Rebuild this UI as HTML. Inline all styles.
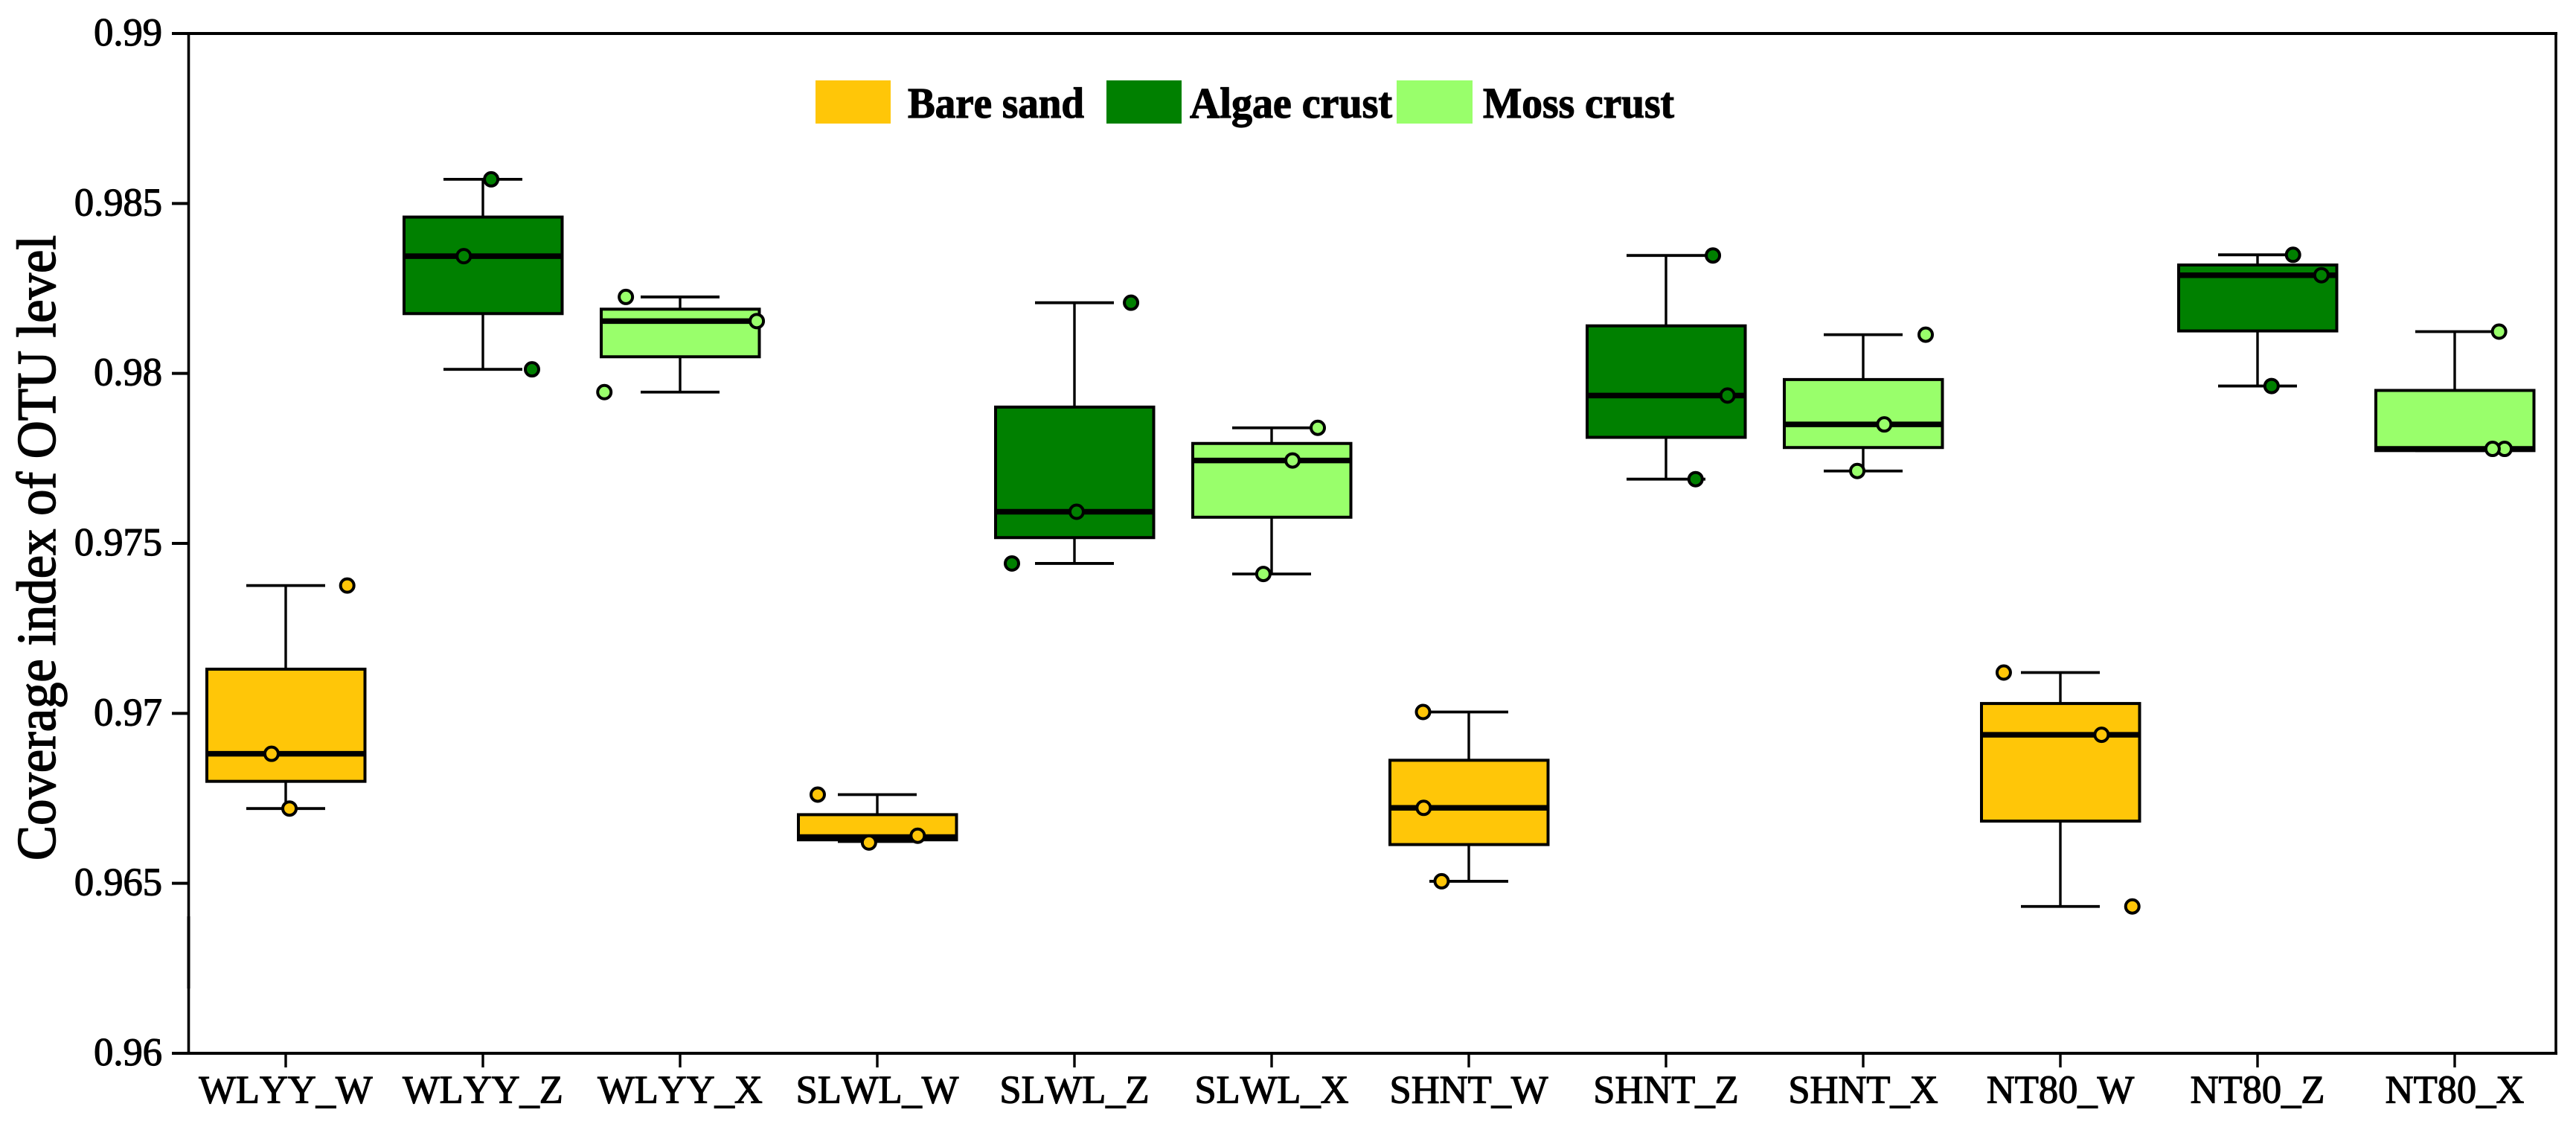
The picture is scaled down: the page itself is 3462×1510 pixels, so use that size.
<!DOCTYPE html>
<html>
<head>
<meta charset="utf-8">
<title>Coverage index of OTU level</title>
<style>
html,body{margin:0;padding:0;background:#fff;width:3462px;height:1510px;overflow:hidden}
svg{display:block}
text{font-family:"Liberation Serif",serif;fill:#000;stroke:#000;stroke-width:1.2px;font-kerning:none}
</style>
</head>
<body>
<svg id="chart" xmlns="http://www.w3.org/2000/svg" width="3462" height="1510" viewBox="0 0 3462 1510">
<rect x="0" y="0" width="3462" height="1510" fill="#fff"/>
<text transform="translate(74,1156) rotate(-90)" font-size="74" textLength="840" lengthAdjust="spacingAndGlyphs" style="stroke-width:1.6px">Coverage index of OTU level</text>
<rect x="1096" y="108" width="101" height="58" fill="#FFC608"/>
<text x="1220" y="158" font-size="58" font-weight="bold" textLength="237" lengthAdjust="spacingAndGlyphs">Bare sand</text>
<rect x="1487" y="108" width="101" height="58" fill="#008000"/>
<text x="1599" y="158" font-size="58" font-weight="bold" textLength="272" lengthAdjust="spacingAndGlyphs">Algae crust</text>
<rect x="1877" y="108" width="102" height="58" fill="#99FF6B"/>
<text x="1993" y="158" font-size="58" font-weight="bold" textLength="257" lengthAdjust="spacingAndGlyphs">Moss crust</text>
<g id="marks"></g>
<g id="axes"></g>
</svg>
<script>
var categories = ["WLYY_W","WLYY_Z","WLYY_X","SLWL_W","SLWL_Z","SLWL_X","SHNT_W","SHNT_Z","SHNT_X","NT80_W","NT80_Z","NT80_X"];
var groups = ["Bare sand","Algae crust","Moss crust","Bare sand","Algae crust","Moss crust","Bare sand","Algae crust","Moss crust","Bare sand","Algae crust","Moss crust"];
var whiskerHigh = [0.97376,0.98571,0.98225,0.96761,0.98208,0.97840,0.97004,0.98347,0.98114,0.97120,0.98349,0.98123];
var boxHigh = [0.97130,0.98460,0.98189,0.96702,0.97901,0.97794,0.96862,0.98140,0.97982,0.97029,0.98319,0.97950];
var medians = [0.96881,0.98345,0.98154,0.96636,0.97593,0.97744,0.96722,0.97935,0.97850,0.96937,0.98289,0.97778];
var boxLow = [0.96800,0.98176,0.98049,0.96628,0.97517,0.97577,0.96614,0.97812,0.97782,0.96683,0.98125,0.97773];
var whiskerLow = [0.96720,0.98012,0.97945,0.96623,0.97441,0.97410,0.96506,0.97689,0.97713,0.96432,0.97963,0.97773];
var pointHigh = [0.97376,0.98571,0.98225,0.96761,0.98208,0.97840,0.97004,0.98347,0.98114,0.97120,0.98349,0.98123];
var pointMid = [0.96881,0.98345,0.98154,0.96640,0.97593,0.97744,0.96722,0.97935,0.97850,0.96937,0.98289,0.97778];
var pointLow = [0.96720,0.98012,0.97945,0.96620,0.97441,0.97410,0.96506,0.97689,0.97713,0.96432,0.97963,0.97778];
var jitterHigh = [0.312,0.042,-0.275,-0.302,0.287,0.234,-0.232,0.238,0.317,-0.287,0.180,0.225];
var jitterMid = [-0.072,-0.097,0.389,0.205,0.011,0.106,-0.229,0.312,0.107,0.209,0.324,0.253];
var jitterLow = [0.019,0.249,-0.384,-0.042,-0.317,-0.042,-0.138,0.150,-0.030,0.365,0.071,0.192];
var yTicks = [0.96,0.965,0.97,0.975,0.98,0.985,0.99];
var yTickLabels = ["0.96","0.965","0.97","0.975","0.98","0.985","0.99"];
var groupColors = {"Bare sand":"#FFC608","Algae crust":"#008000","Moss crust":"#99FF6B"};

var NS = "http://www.w3.org/2000/svg";
var marks = document.getElementById("marks");
var axes = document.getElementById("axes");
function xScale(i){ return 384 + i * 265; }
function yScale(v){ return 45 + (0.99 - v) / 0.03 * 1370; }
function make(parent, tag, attrs, name){
  var el = document.createElementNS(NS, tag);
  for (var k in attrs) el.setAttribute(k, attrs[k]);
  
  
  parent.appendChild(el);
  return el;
}
function line(parent, x1, y1, x2, y2, w, name){
  return make(parent, "line", {x1:x1, y1:y1, x2:x2, y2:y2, stroke:"#000", "stroke-width":w}, name);
}

categories.forEach(function(cat, i){
  var cx = xScale(i), color = groupColors[groups[i]], slug = cat.toLowerCase().replace("_","-");
  var g = make(marks, "g", {}, "box-" + slug);
  line(g, cx, yScale(whiskerHigh[i]), cx, yScale(boxHigh[i]), 3.4, "upper-whisker-" + slug);
  line(g, cx, yScale(boxLow[i]), cx, yScale(whiskerLow[i]), 3.4, "lower-whisker-" + slug);
  line(g, cx - 53, yScale(whiskerHigh[i]), cx + 53, yScale(whiskerHigh[i]), 3.8, "upper-cap-" + slug);
  line(g, cx - 53, yScale(whiskerLow[i]), cx + 53, yScale(whiskerLow[i]), 3.8, "lower-cap-" + slug);
  make(g, "rect", {x:cx - 106, y:yScale(boxHigh[i]), width:212.5, height:yScale(boxLow[i]) - yScale(boxHigh[i]), fill:color, stroke:"#000", "stroke-width":4}, "iqr-box-" + slug);
  line(g, cx - 106, yScale(medians[i]), cx + 106, yScale(medians[i]), 7.5, "median-" + slug);
  [[pointHigh,jitterHigh,"high"],[pointMid,jitterMid,"mid"],[pointLow,jitterLow,"low"]].forEach(function(p){
    make(g, "circle", {cx:xScale(i + p[1][i]), cy:yScale(p[0][i]), r:9, fill:color, stroke:"#000", "stroke-width":4}, "point-" + p[2] + "-" + slug);
  });
});

line(axes, 253.5, 43, 253.5, 1231, 3.6, "y-axis-line");
line(axes, 253.5, 1231, 253.5, 1328, 4, "y-axis-line-break");
line(axes, 253.5, 1328, 253.5, 1417, 3.6, "y-axis-line-lower");
line(axes, 3435, 43, 3435, 1417, 3.6, "right-border-line");
line(axes, 231, 45, 3437, 45, 4, "top-border-line");
line(axes, 231, yScale(0.96), 3437, yScale(0.96), 4, "x-axis-line");

yTicks.forEach(function(v, i){
  if (v !== 0.96 && v !== 0.99) line(axes, 231, yScale(v), 254, yScale(v), 4, "y-tick-" + yTickLabels[i]);
  make(axes, "text", {x:218, y:yScale(v) + 16, "font-size":52.5, "text-anchor":"end"}, "y-tick-label-" + yTickLabels[i]).textContent = yTickLabels[i];
});
categories.forEach(function(cat, i){
  var slug = cat.toLowerCase().replace("_","-");
  line(axes, xScale(i), yScale(0.96), xScale(i), yScale(0.96) + 19, 3.4, "x-tick-" + slug);
  make(axes, "text", {x:xScale(i), y:1481.5, "font-size":52.5, "text-anchor":"middle"}, "x-tick-label-" + slug).textContent = cat;
});
</script>
</body>
</html>
